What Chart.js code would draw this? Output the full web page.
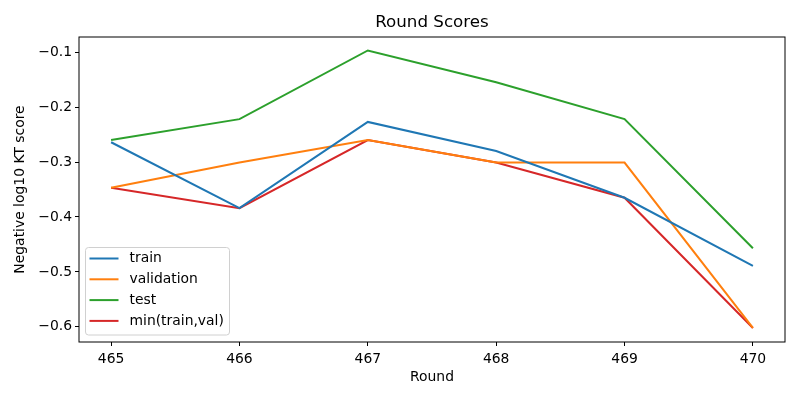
<!DOCTYPE html>
<html>
<head>
<meta charset="utf-8">
<script src="https://cdn.jsdelivr.net/npm/chart.js@4/dist/chart.umd.min.js"></script>
<style>
    html, body { margin: 0; padding: 0; background: #ffffff; }
    #chart-wrap { width: 800px; height: 400px; }
</style>
</head>
<body>
<div id="chart-wrap"><canvas id="round-scores"></canvas></div>
<script>
// Values
const rounds = [465, 466, 467, 468, 469, 470];
const train_values = [-0.264, -0.384, -0.227, -0.280, -0.365, -0.489];
const validation_values = [-0.347, -0.301, -0.260, -0.301, -0.301, -0.602];
const test_values = [-0.260, -0.222, -0.097, -0.155, -0.222, -0.457];
const min_values = [-0.347, -0.384, -0.260, -0.301, -0.365, -0.602];
const y_ticks = [-0.6, -0.5, -0.4, -0.3, -0.2, -0.1];

const series_labels = ["train", "validation", "test", "min(train,val)"];
const series_colours = ["#1f77b4", "#ff7f0e", "#2ca02c", "#d62728"];
const font_family = "'DejaVu Sans', sans-serif";

window.addEventListener("DOMContentLoaded", () => {

    const series_values = [train_values, validation_values, test_values, min_values];

    let line_values = [];
    for (let i = 0; i < series_values.length; i ++) {
        line_values.push({
            label: series_labels[i],
            data: rounds.map((r, j) => ({x: r, y: series_values[i][j]})),
            fill: false,
            borderColor: series_colours[i],
            backgroundColor: series_colours[i],
            borderWidth: 2,
            pointRadius: 0,
            tension: 0
        });
    }

    // matplotlib-like frame, title and legend inside the axes
    const frame_plugin = {
        id: "frame",
        afterDraw(chart) {
            const {ctx, chartArea: area} = chart;
            ctx.save();
            ctx.strokeStyle = "#000000";
            ctx.lineWidth = 1;
            ctx.strokeRect(area.left, area.top, area.right - area.left, area.bottom - area.top);

            ctx.fillStyle = "#000000";
            ctx.font = "16.7px " + font_family;
            ctx.textAlign = "center";
            ctx.textBaseline = "middle";
            ctx.fillText("Round Scores", (area.left + area.right) / 2, 23);

            // legend box
            const box_x = area.left + 6.5, box_y = 247.5, box_w = 144, box_h = 87.5;
            ctx.beginPath();
            ctx.roundRect(box_x, box_y, box_w, box_h, 3);
            ctx.fillStyle = "rgba(255,255,255,0.8)";
            ctx.fill();
            ctx.strokeStyle = "#d0d0d0";
            ctx.stroke();

            ctx.font = "13.9px " + font_family;
            ctx.textAlign = "left";
            chart.data.datasets.forEach((ds, i) => {
                const y = 258.5 + i * 20.8;
                ctx.strokeStyle = ds.borderColor;
                ctx.lineWidth = 2;
                ctx.beginPath();
                ctx.moveTo(box_x + 4, y);
                ctx.lineTo(box_x + 33, y);
                ctx.stroke();
                ctx.fillStyle = "#000000";
                ctx.fillText(ds.label, box_x + 44, y);
            });
            ctx.restore();
        }
    };

    const config_line = {
        type: "line",
        data: { datasets: line_values },
        options: {
            responsive: true,
            maintainAspectRatio: false,
            animation: false,
            layout: {
                padding: { left: 0, top: 37, right: 15, bottom: 0 }
            },
            plugins: {
                legend: { display: false },
                title: { display: false },
                tooltip: { enabled: false }
            },
            scales: {
                x: {
                    type: "linear",
                    min: 464.75,
                    max: 470.25,
                    afterFit: (scale) => { scale.height = 58; },
                    afterBuildTicks: (scale) => {
                        scale.ticks = rounds.map(r => ({value: r}));
                    },
                    grid: {
                        drawOnChartArea: false,
                        drawTicks: true,
                        tickLength: 4,
                        tickWidth: 1,
                        tickColor: "#000000"
                    },
                    border: { display: false },
                    ticks: {
                        color: "#000000",
                        padding: 5,
                        font: { family: font_family, size: 13.9 },
                        maxRotation: 0
                    },
                    title: {
                        display: true,
                        text: "Round",
                        color: "#000000",
                        font: { family: font_family, size: 13.9 },
                        padding: { top: 0, bottom: 14 }
                    }
                },
                y: {
                    type: "linear",
                    min: -0.6275,
                    max: -0.0725,
                    afterFit: (scale) => { scale.width = 79; },
                    afterBuildTicks: (scale) => {
                        scale.ticks = y_ticks.map(v => ({value: v}));
                    },
                    grid: {
                        drawOnChartArea: false,
                        drawTicks: true,
                        tickLength: 4,
                        tickWidth: 1,
                        tickColor: "#000000"
                    },
                    border: { display: false },
                    ticks: {
                        color: "#000000",
                        padding: 3,
                        font: { family: font_family, size: 13.9 },
                        callback: (v) => "\u2212" + Math.abs(v).toFixed(1)
                    },
                    title: {
                        display: true,
                        text: "Negative log10 KT score",
                        color: "#000000",
                        font: { family: font_family, size: 13.9 },
                        padding: { top: 12.5, bottom: 0 }
                    }
                }
            }
        },
        plugins: [frame_plugin]
    };

    const ctx_line = document.getElementById("round-scores").getContext("2d");
    const line_chart = new Chart(ctx_line, config_line);
});
</script>
</body>
</html>
